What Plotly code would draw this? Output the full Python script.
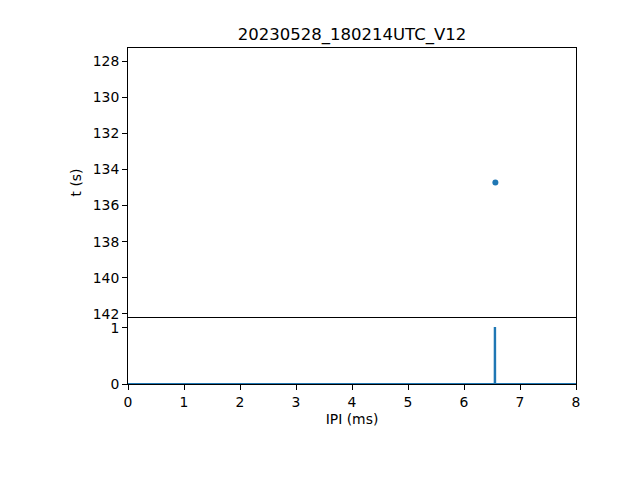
import plotly.graph_objects as go
from plotly.subplots import make_subplots

# Data
click_ipi_ms = [6.56]
click_time_s = [134.73]
hist_ipi_ms = [0.0, 6.548, 6.549, 6.556, 6.557, 8.0]
hist_density = [0.0, 0.0, 1.0, 1.0, 0.0, 0.0]
title_text = "20230528_180214UTC_V12"

blue = "#1f77b4"
font = dict(family="DejaVu Sans", size=13.9, color="black")

fig = make_subplots(rows=2, cols=1, shared_xaxes=True, vertical_spacing=0,
                    row_heights=[0.8006, 0.1994])

fig.add_trace(go.Scatter(x=click_ipi_ms, y=click_time_s, mode="markers",
                         marker=dict(color=blue, size=6), showlegend=False), row=1, col=1)
fig.add_trace(go.Scatter(x=hist_ipi_ms, y=hist_density, mode="lines",
                         line=dict(color=blue, width=2), showlegend=False), row=2, col=1)

axis_common = dict(showline=True, linecolor="black", linewidth=1, mirror=True,
                   ticks="outside", ticklen=5, tickcolor="black", tickwidth=1,
                   showgrid=False, zeroline=False, tickfont=font)

fig.update_xaxes(**axis_common)
fig.update_yaxes(**axis_common)
fig.update_xaxes(range=[0, 8], dtick=1, tick0=0, row=2, col=1, mirror=False,
                 title=dict(text="IPI (ms)", font=font, standoff=5))
fig.update_xaxes(range=[0, 8], showticklabels=False, ticks="", row=1, col=1)
fig.update_yaxes(range=[142.17, 127.28], tickvals=[128, 130, 132, 134, 136, 138, 140, 142],
                 row=1, col=1, title=dict(text="t (s)", font=font, standoff=7))
fig.update_yaxes(range=[0, 1.196], tickvals=[0, 1], row=2, col=1)

fig.update_layout(
    width=640, height=480,
    margin=dict(l=120, r=72, t=40, b=104),
    paper_bgcolor="white", plot_bgcolor="white",
    title=dict(text=title_text, x=0.5375, xanchor="center", y=0.946, yanchor="middle",
               font=dict(family="DejaVu Sans", size=16.5, color="black")),
    font=font,
)

fig.write_html("out.html")
